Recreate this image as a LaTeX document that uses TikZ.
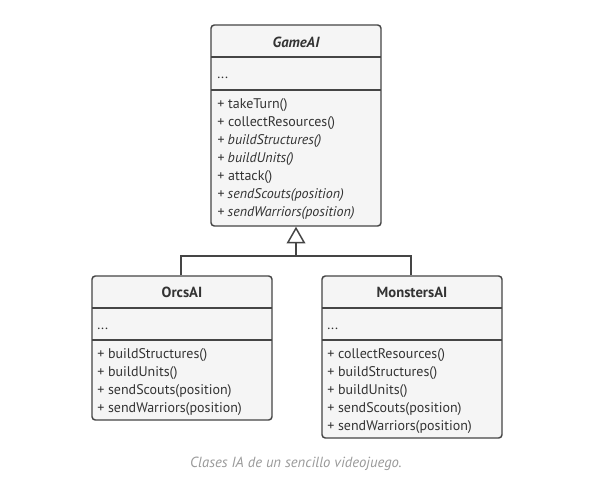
\documentclass[tikz,border=0pt]{standalone}
\usepackage{fontspec}
\setmainfont{PT Sans}
\usetikzlibrary{arrows.meta}
\definecolor{boxfill}{HTML}{F5F5F5}
\definecolor{boxline}{HTML}{454545}
\definecolor{txt}{HTML}{333333}
\definecolor{cap}{HTML}{9A9A9A}
\begin{document}
\begin{tikzpicture}[x=0.75pt,y=-0.75pt,
  classbox/.style={draw=boxline,fill=boxfill,line width=1.1pt,rounded corners=2.5pt,inner sep=0pt},
  sect/.style={draw=boxline,line width=1.1pt},
  title/.style={font=\fontsize{11}{13}\selectfont\bfseries,text=txt,inner sep=0pt},
  member/.style={font=\fontsize{10.5}{13.5}\selectfont,text=txt,anchor=base west,inner sep=0pt,align=left},
  conn/.style={draw=boxline,line width=1.1pt}]
\fill[white] (0,0) rectangle (616,493);
\useasboundingbox (0,0) rectangle (616,493);

% GameAI
\node[classbox,minimum width=127.5pt,minimum height=150.75pt] (game) at (296,125.5) {};
\draw[sect] (211,57) -- (381,57);
\draw[sect] (211,90) -- (381,90);
\node[title] (gameT) at (296,42) {\itshape GameAI};
\node[member] (gameF) at (217,78) {...};
\node[member] (gameM) at (217,216) {+ takeTurn()\\+ collectResources()\\\itshape + buildStructures()\\\itshape + buildUnits()\\+ attack()\\\itshape + sendScouts(position)\\\itshape + sendWarriors(position)};

% OrcsAI
\node[classbox,minimum width=135pt,minimum height=108pt] (orcs) at (182,348) {};
\draw[sect] (92,308) -- (272,308);
\draw[sect] (92,340) -- (272,340);
\node[title] (orcsT) at (182,292) {OrcsAI};
\node[member] (orcsF) at (97,329) {...};
\node[member] (orcsM) at (97,412) {+ buildStructures()\\+ buildUnits()\\+ sendScouts(position)\\+ sendWarriors(position)};

% MonstersAI
\node[classbox,minimum width=135pt,minimum height=121.5pt] (mon) at (412,357) {};
\draw[sect] (322,308) -- (502,308);
\draw[sect] (322,340) -- (502,340);
\node[title] (monT) at (412,292) {MonstersAI};
\node[member] (monF) at (327,329) {...};
\node[member] (monM) at (327,430) {+ collectResources()\\+ buildStructures()\\+ buildUnits()\\+ sendScouts(position)\\+ sendWarriors(position)};

% inheritance
\coordinate (junc) at (296,256);
\draw[conn] (orcs.north -| 181,0) |- (junc) -| (mon.north -| 411,0);
\draw[conn,-{Triangle[open,length=12.5pt,width=14pt,line width=1.1pt]}] (junc) -- (game.south);

\node[font=\fontsize{11}{13}\selectfont\itshape,text=cap] (caption) at (296,464) {Clases IA de un sencillo videojuego.};
\end{tikzpicture}
\end{document}
